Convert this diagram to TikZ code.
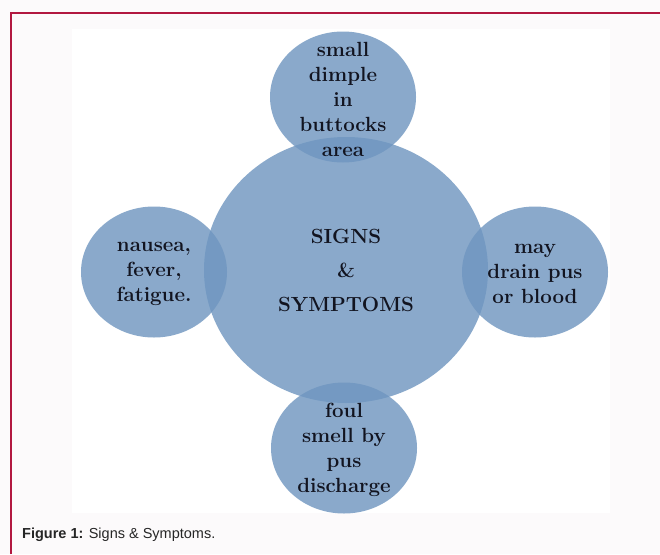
\documentclass[tikz,border=0pt]{standalone}
\usepackage{fontspec}
\usepackage{tikz}
\usetikzlibrary{positioning,shapes.geometric}
\newfontfamily\capfont{Liberation Sans}
\definecolor{bubble}{RGB}{111,150,192}
\definecolor{frameline}{RGB}{178,24,64}
\definecolor{pagebg}{RGB}{252,250,251}
\definecolor{inktext}{RGB}{18,20,32}

\begin{document}
\begin{tikzpicture}[x=1pt, y=-1pt,
  bubbletext/.style={text=inktext, align=center, inner sep=0pt, font=\fontsize{20.5}{25}\selectfont\bfseries},
  hub/.style={ellipse, fill=bubble, fill opacity=0.81, text opacity=1, minimum width=284pt, minimum height=266pt, inner sep=0pt, bubbletext, font=\fontsize{20.5}{34}\selectfont\bfseries},
  petal/.style={ellipse, fill=bubble, fill opacity=0.81, minimum width=146pt, minimum height=131pt, inner sep=0pt, label={[bubbletext, yshift=-2pt]center:{#1}}}]
% page and frame
\fill[pagebg] (0,0) rectangle (660,554);
\useasboundingbox (0,0) rectangle (660,554);
\fill[white] (72,29) rectangle (610,513);
\draw[frameline, line width=1.5pt] (11,554) -- (11,13) -- (660,13);
% centre
\node[hub] (signs) at (346,270) {SIGNS\\\&\\SYMPTOMS};
% petals
\node[petal={small\\dimple\\in\\buttocks\\area}] (dimple) at (343,97) {};
\node[petal={nausea,\\fever,\\fatigue.}] (nausea) at (154,272) {};
\node[petal={may\\drain pus\\or blood}] (drain) at (535,272) {};
\node[petal={foul\\smell by\\pus\\discharge}] (smell) at (344,448) {};
% caption
\node[anchor=west, inner sep=0pt, text=black!85, font=\capfont\fontsize{14.5}{17}\selectfont] (caption) at (22,535) {\textbf{Figure 1:} Signs \& Symptoms.};
\end{tikzpicture}
\end{document}
